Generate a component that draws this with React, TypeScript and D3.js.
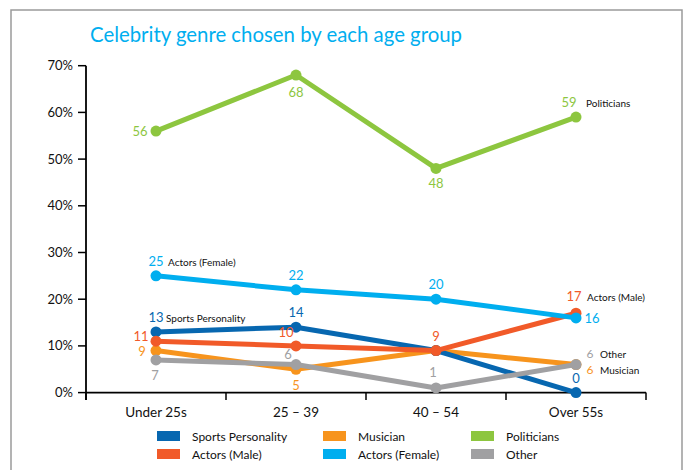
import React from "react";
import * as d3 from "d3";

const title = "Celebrity genre chosen by each age group";
const categories = ["Under 25s", "25 – 39", "40 – 54", "Over 55s"];
const yTicks = [0, 0.1, 0.2, 0.3, 0.4, 0.5, 0.6, 0.7];

const seriesNames = ["Sports Personality", "Actors (Male)", "Musician", "Actors (Female)", "Politicians", "Other"];
const sportsPersonality = [13, 14, 9, 0];
const actorsMale = [11, 10, 9, 17];
const musician = [9, 5, 9, 6];
const actorsFemale = [25, 22, 20, 16];
const politicians = [56, 68, 48, 59];
const other = [7, 6, 1, 6];

const colors: Record<string, string> = {
  "Sports Personality": "#0767b0",
  "Actors (Male)": "#f15a29",
  "Musician": "#f7941d",
  "Actors (Female)": "#00aeef",
  "Politicians": "#8dc63f",
  "Other": "#a0a0a2",
};

const values: Record<string, number[]> = {
  "Sports Personality": sportsPersonality,
  "Actors (Male)": actorsMale,
  "Musician": musician,
  "Actors (Female)": actorsFemale,
  "Politicians": politicians,
  "Other": other,
};

// label placement per point: [dx, dy, fontSize] or null (hidden)
type Pl = [number, number, number] | null;
const labelPlacement: Record<string, Pl[]> = {
  "Politicians": [[-16, 5, 13], [0, 22, 13], [0, 20, 13], [-7, -10, 13]],
  "Actors (Female)": [[0, -10, 13], [0, -10, 13], [0, -10, 13], [16, 5, 13]],
  "Sports Personality": [[0, -10, 13], [0, -10, 13], null, [0, -10, 13]],
  "Actors (Male)": [[-15, 0, 13], [-10, -9, 13], [0, -10, 13], [-2, -12, 13]],
  "Musician": [[-14, 5, 13], [0, 21, 13], null, [14, 9.5, 12]],
  "Other": [[-1, 20, 13], [-8, -6, 13], [-3, -11, 13], [14, -7, 12]],
};
const nameLabel: Record<string, [number, number, number]> = {
  "Politicians": [3, 10, -10],
  "Actors (Female)": [0, 12, -10],
  "Sports Personality": [0, 10, -10],
  "Actors (Male)": [3, 11, -12],
  "Musician": [3, 24, 9],
  "Other": [3, 24, -7],
};
const drawOrder = ["Politicians", "Musician", "Sports Personality", "Actors (Male)", "Actors (Female)", "Other"];

const FONT = "Lato, 'Open Sans', sans-serif";

export default function App() {
  const left = 86, right = 646, top = 65.7, bottom = 392.6;
  const x = d3.scalePoint<string>().domain(categories).range([left, right]).padding(0.5);
  const xb = d3.scaleBand<string>().domain(categories).range([left, right]);
  const y = d3.scaleLinear().domain([0, 0.7]).range([bottom, top]);
  const line = d3
    .line<number>()
    .x((_, i) => x(categories[i]) as number)
    .y((d) => y(d / 100));
  const bounds = [...categories.map((c) => xb(c) as number), right];

  const legendCols = [157, 323, 471];
  const legendRows = [436, 454];

  return (
    <svg width={686} height={470} style={{ position: "absolute", left: 0, top: 0, background: "#fff" }} fontFamily={FONT}>
      <rect x={11} y={10} width={671} height={500} fill="#fff" stroke="#9a9a9a" strokeWidth={1.5} />
      <text x={90} y={42} fill="#00aeef" fontSize={21} textLength={372} lengthAdjust="spacingAndGlyphs">{title}</text>

      {/* y axis */}
      <line x1={left} x2={left} y1={top} y2={400} stroke="#000" strokeWidth={1.8} />
      {yTicks.map((t) => (
        <g key={t}>
          <line x1={78} x2={left} y1={y(t)} y2={y(t)} stroke="#000" strokeWidth={1.5} />
          <text x={73} y={y(t) + 4.5} textAnchor="end" fontSize={13} fill="#111">{`${Math.round(t * 100)}%`}</text>
        </g>
      ))}
      {/* x axis */}
      <line x1={left} x2={right} y1={bottom} y2={bottom} stroke="#000" strokeWidth={1.8} />
      {bounds.map((b, i) => (
        <line key={i} x1={b} x2={b} y1={bottom} y2={400} stroke="#000" strokeWidth={1.5} />
      ))}
      {categories.map((c) => (
        <text key={c} x={x(c)} y={417} textAnchor="middle" fontSize={13.5} fill="#111">{c}</text>
      ))}

      {/* lines */}
      {drawOrder.map((s) => (
        <g key={s}>
          <path d={line(values[s]) || ""} fill="none" stroke={colors[s]} strokeWidth={5} strokeLinejoin="round" />
          {values[s].map((v, i) => (
            <circle key={i} cx={x(categories[i])} cy={y(v / 100)} r={5.5} fill={colors[s]} />
          ))}
        </g>
      ))}

      {/* value labels */}
      {drawOrder.map((s) =>
        values[s].map((v, i) => {
          const p = labelPlacement[s][i];
          if (!p) return null;
          const cx = x(categories[i]) as number;
          const cy = y(v / 100);
          return (
            <text key={s + i} x={cx + p[0]} y={cy + p[1]} textAnchor="middle" fontSize={p[2]} fill={colors[s]}>
              {v}
            </text>
          );
        })
      )}
      {/* series name labels */}
      {drawOrder.map((s) => {
        const [idx, dx, dy] = nameLabel[s];
        const cx = x(categories[idx]) as number;
        const cy = y(values[s][idx] / 100);
        return (
          <text key={s} x={cx + dx} y={cy + dy} fontSize={10} fill="#111">{s}</text>
        );
      })}

      {/* legend */}
      {seriesNames.map((s, i) => {
        const col = Math.floor(i / 2);
        const row = i % 2;
        const lx = legendCols[col];
        const ly = legendRows[row];
        return (
          <g key={s}>
            <rect x={lx} y={ly - 5} width={23} height={10} fill={colors[s]} />
            <text x={lx + 35} y={ly + 4.5} fontSize={12} fill="#111">{s}</text>
          </g>
        );
      })}
    </svg>
  );
}
